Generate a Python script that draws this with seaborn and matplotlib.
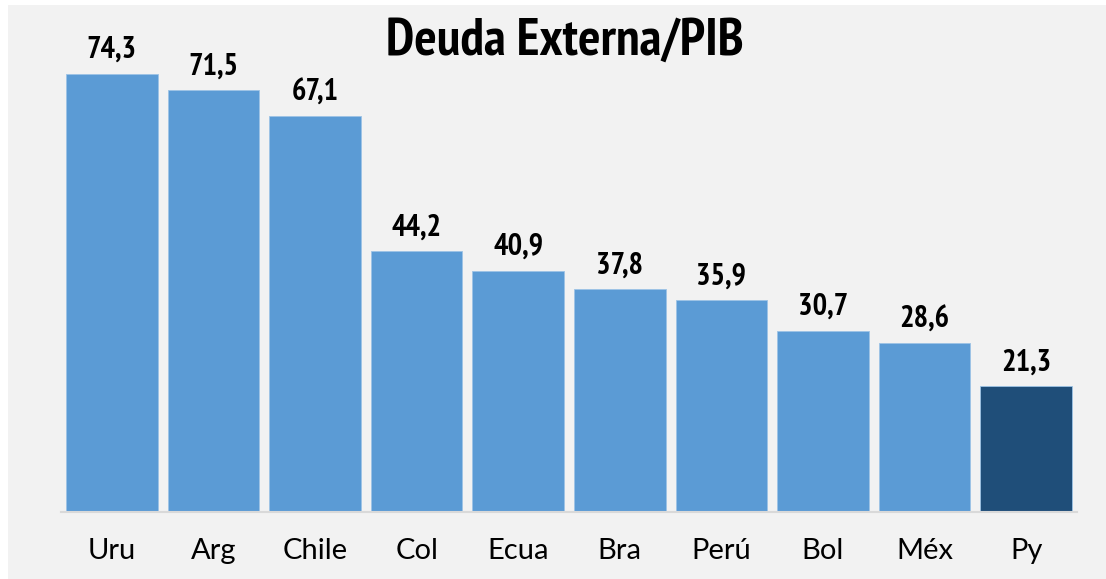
import matplotlib
matplotlib.use("Agg")
import matplotlib.pyplot as plt
from matplotlib import font_manager
from matplotlib.font_manager import FontProperties
from matplotlib.patches import Rectangle
import pandas as pd
import seaborn as sns

paises = ["Uru", "Arg", "Chile", "Col", "Ecua", "Bra", "Perú", "Bol", "Méx", "Py"]
deuda_pib = [74.3, 71.5, 67.1, 44.2, 40.9, 37.8, 35.9, 30.7, 28.6, 21.3]
colores = ["#5B9BD5"] * 9 + ["#1F4E79"]
titulo = "Deuda Externa/PIB"


def condensed_bold():
    # look for a narrow/condensed bold face among installed fonts
    fonts = font_manager.fontManager.ttflist
    for key in ["Narrow", "Condensed"]:
        for f in fonts:
            if key.lower() in (f.name + f.fname).lower() and f.weight in (600, 700, 800, "bold") \
                    and f.style == "normal":
                return f.fname
    return None


cond_file = condensed_bold()
names = {f.name for f in font_manager.fontManager.ttflist}
tick_font = "Lato" if "Lato" in names else "DejaVu Sans"

sns.set_theme(style="white")
plt.rcParams["font.family"] = [tick_font, "DejaVu Sans"]


def bold_font(size):
    if cond_file:
        return FontProperties(fname=cond_file, size=size)
    return FontProperties(family="DejaVu Sans", weight="bold", size=size)


df = pd.DataFrame({"pais": paises, "valor": deuda_pib})

fig = plt.figure(figsize=(11.06, 5.79), dpi=100)
fig.patch.set_facecolor("white")
fig.patches.append(Rectangle((8 / 1106, 0), 1, 1 - 5 / 579, transform=fig.transFigure,
                             facecolor="#F2F2F2", edgecolor="none", zorder=-10))

ax = fig.add_axes([61 / 1106, 67 / 579, 1016 / 1106, 472 / 579])
ax.set_facecolor("none")
sns.barplot(data=df, x="pais", y="valor", hue="pais", palette=colores,
            legend=False, width=0.9, saturation=1, ax=ax,
            edgecolor="#9DC3E6", linewidth=0.6)
ax.set_xlim(-0.5, len(paises) - 0.5)
ax.set_ylim(0, 80)

for cont in ax.containers:
    ax.bar_label(cont, labels=[f"{v:.1f}".replace(".", ",") for v in cont.datavalues],
                 padding=7, fontproperties=bold_font(22), color="black")

ax.set_xlabel("")
ax.set_ylabel("")
ax.set_yticks([])
ax.tick_params(axis="x", length=0, pad=19, labelsize=21, labelcolor="black")
for s in ["top", "right", "left"]:
    ax.spines[s].set_visible(False)
ax.spines["bottom"].set_color("#D9D9D9")
ax.spines["bottom"].set_linewidth(1.5)

fig.text(565 / 1106, 1 - 42 / 579, titulo, ha="center", va="center",
         fontproperties=bold_font(38), color="black")

fig.savefig("out.png", dpi=100)
